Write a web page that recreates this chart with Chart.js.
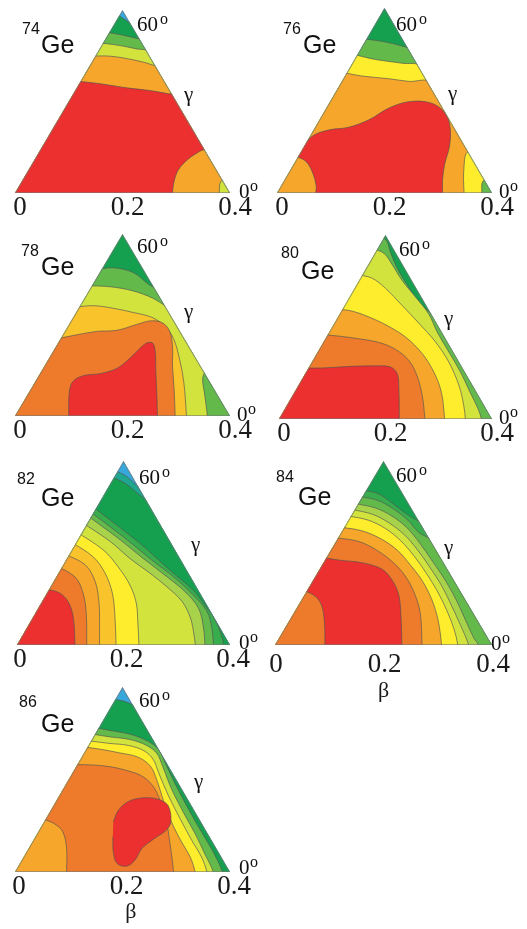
<!DOCTYPE html>
<html>
<head>
<meta charset="utf-8">
<script src="https://cdn.jsdelivr.net/npm/chart.js@4.4.1/dist/chart.umd.min.js"></script>
<style>
  html, body { margin: 0; padding: 0; background: #fff; }
  body { width: 527px; height: 929px; position: relative; overflow: hidden; }
  canvas { position: absolute; }
  .lbl { position: absolute; line-height: 1; white-space: nowrap; color: #111; }
  .sans { font-family: 'Liberation Sans', Arial, sans-serif; }
  .serif { font-family: 'Liberation Serif', 'Times New Roman', serif; }
</style>
</head>
<body>
<script>
// beta axis ticks, the same on every panel
const betaTicks = [0, 0.2, 0.4];
// height of the (beta, gamma) triangle: x = beta cos(gamma), y = beta sin(gamma)
const gammaTop = 0.4 * Math.sin(Math.PI / 3);

// energy levels, 0 = lowest (red) ... 11 = highest (blue)
const levelColors = ['#EC2F2F', '#EE7B2B', '#F6A72B', '#F9C42B', '#FDED2C', '#D3E33D',
                     '#A8D24A', '#63BA4A', '#38AD4E', '#14A04E', '#1FA68F', '#37A8DC'];

// each contour: closed outline [x, y] of the region at or below that level
// 74Ge
const ge74Base = 11;
const ge74Levels = [9, 7, 5, 2, 0];
const ge74Contours = [
  [[.186,.340],[.208,.326],[.223,.312],[.45,-.03],[-.05,-.03]],
  [[.160,.306],[.195,.300],[.225,.293],[.250,.286],[.45,-.03],[-.05,-.03]],
  [[.150,.285],[.190,.280],[.225,.273],[.255,.265],[.45,-.03],[-.05,-.03]],
  [[.140,.259],[.177,.259],[.220,.252],[.257,.242],[.283,.229],[.400,.032],[.383,.022],[.380,0],[.380,-.013],[-.028,-.013]],
  [[.113,.212],[.158,.207],[.208,.199],[.251,.194],[.285,.188],[.304,.185],[.358,.087],[.344,.079],[.322,.064],[.304,.044],[.296,.022],[.293,0],[.293,-.013],[-.028,-.013]]
];

// 76Ge
const ge76Base = 11;
const ge76Levels = [9, 7, 4, 2, 0];
const ge76Contours = [
  [[.192,.347],[.211,.340],[.220,.331],[.45,-.03],[-.05,-.03]],
  [[.158,.289],[.195,.284],[.233,.275],[.254,.266],[.45,-.03],[-.05,-.03]],
  [[.141,.260],[.183,.250],[.233,.243],[.270,.236],[.400,.032],[.383,.022],[.381,0],[.381,-.013],[-.05,-.03]],
  [[.121,.226],[.158,.219],[.208,.214],[.245,.209],[.288,.207],[.369,.088],[.352,.074],[.348,.050],[.347,.025],[.348,0],[.348,-.013],[-.05,-.03]],
  [[.037,.074],[.065,.106],[.096,.118],[.133,.123],[.171,.137],[.208,.159],[.245,.171],[.285,.169],[.312,.151],[.322,.123],[.321,.088],[.312,.054],[.308,.025],[.308,0],[.308,-.013],[.074,-.013],[.073,.013],[.065,.041],[.053,.060],[.034,.069]]
];

// 78Ge
const ge78Base = 9;
const ge78Levels = [7, 5, 3, 1, 0];
const ge78Contours = [
  [[.152,.279],[.183,.282],[.220,.273],[.248,.251],[.276,.232],[.45,-.03],[-.05,-.03]],
  [[.133,.248],[.177,.246],[.220,.238],[.257,.224],[.279,.210],[.301,.197],[.353,.090],[.349,.071],[.353,.040],[.358,0],[.358,-.011],[-.05,-.03]],
  [[.112,.207],[.146,.210],[.183,.205],[.220,.197],[.254,.188],[.279,.171],[.295,.147],[.306,.109],[.314,.065],[.319,0],[.319,-.011],[-.05,-.03]],
  [[.074,.146],[.112,.154],[.152,.161],[.189,.163],[.226,.174],[.251,.181],[.273,.178],[.287,.163],[.293,.134],[.293,.096],[.296,.052],[.298,0],[.298,-.011],[-.05,-.03]],
  [[.100,-.011],[.100,0],[.101,.045],[.108,.066],[.128,.077],[.160,.081],[.192,.092],[.220,.116],[.243,.138],[.256,.139],[.261,.122],[.262,.084],[.264,.040],[.265,0],[.265,-.011]]
];

// 80Ge
const ge80Base = 9;
const ge80Levels = [7, 5, 4, 2, 1, 0];
const ge80Contours = [
  [[.181,.347],[.201,.337],[.209,.315],[.222,.284],[.241,.252],[.263,.220],[.291,.192],[.45,-.03],[-.05,-.03]],
  [[.175,.321],[.197,.312],[.213,.290],[.231,.261],[.256,.230],[.281,.198],[.297,.164],[.319,.126],[.341,.088],[.359,.050],[.374,.019],[.380,0],[.380,-.013],[-.05,-.03]],
  [[.147,.272],[.175,.265],[.200,.246],[.231,.214],[.263,.180],[.294,.145],[.319,.107],[.338,.063],[.347,.025],[.350,0],[.350,-.013],[-.05,-.03]],
  [[.109,.207],[.138,.203],[.169,.192],[.203,.176],[.238,.154],[.269,.123],[.291,.088],[.305,.050],[.311,0],[.311,-.013],[-.05,-.03]],
  [[.081,.159],[.113,.156],[.150,.151],[.188,.144],[.219,.131],[.244,.110],[.259,.082],[.269,.044],[.274,0],[.274,-.013],[-.05,-.03]],
  [[.047,.096],[.081,.096],[.131,.099],[.181,.100],[.209,.098],[.222,.085],[.225,.057],[.226,0],[.226,-.013],[-.05,-.03]]
];

// 82Ge
const ge82Base = 11;
const ge82Levels = [10, 9, 8, 7, 6, 5, 4, 3, 2, 1, 0];
const ge82Contours = [
  [[.180,.330],[.205,.318],[.225,.300],[.245,.285],[.45,-.03],[-.05,-.03]],
  [[.175,.318],[.205,.303],[.228,.284],[.255,.262],[.45,-.03],[-.05,-.03]],
  [[.135,.266],[.230,.192],[.287,.141],[.330,.104],[.350,.079],[.372,.047],[.385,.015],[.388,0],[.388,-.013],[-.05,-.03]],
  [[.128,.258],[.203,.201],[.253,.160],[.297,.126],[.331,.094],[.357,.063],[.366,.031],[.369,0],[.369,-.013],[-.05,-.03]],
  [[.126,.248],[.190,.201],[.237,.163],[.281,.129],[.316,.100],[.341,.069],[.350,.034],[.353,0],[.353,-.013],[-.05,-.03]],
  [[.120,.232],[.175,.195],[.212,.163],[.250,.135],[.281,.110],[.310,.082],[.325,.053],[.331,.028],[.335,0],[.335,-.013],[-.05,-.03]],
  [[.110,.214],[.162,.179],[.190,.147],[.212,.113],[.224,.079],[.227,.041],[.229,0],[.229,-.013],[-.05,-.03]],
  [[.100,.195],[.143,.166],[.165,.136],[.179,.098],[.184,.053],[.186,0],[.186,-.013],[-.05,-.03]],
  [[.088,.172],[.128,.151],[.147,.119],[.154,.079],[.155,.041],[.155,0],[.155,-.013],[-.05,-.03]],
  [[.072,.150],[.109,.128],[.124,.098],[.130,.060],[.131,0],[.131,-.013],[-.05,-.03]],
  [[.052,.106],[.080,.098],[.097,.080],[.106,.050],[.109,0],[.109,-.013],[-.05,-.03]]
];

// 84Ge
const ge84Base = 9;
const ge84Levels = [8, 7, 6, 5, 4, 2, 1, 0];
const ge84Contours = [
  [[.160,.292],[.190,.285],[.215,.268],[.238,.250],[.285,.215],[.45,-.03],[-.05,-.03]],
  [[.155,.280],[.190,.272],[.220,.255],[.245,.235],[.265,.212],[.300,.190],[.45,-.03],[-.05,-.03]],
  [[.150,.266],[.185,.258],[.215,.243],[.242,.222],[.266,.193],[.290,.158],[.315,.120],[.335,.083],[.352,.045],[.366,.014],[.375,0],[.375,-.013],[-.05,-.03]],
  [[.143,.255],[.180,.246],[.210,.230],[.238,.208],[.262,.180],[.285,.147],[.308,.110],[.326,.073],[.342,.037],[.357,0],[.357,-.013],[-.05,-.03]],
  [[.135,.243],[.172,.235],[.204,.219],[.232,.196],[.256,.168],[.279,.135],[.300,.100],[.318,.062],[.330,.030],[.337,0],[.337,-.013],[-.05,-.03]],
  [[.120,.222],[.160,.215],[.195,.200],[.226,.178],[.250,.150],[.272,.120],[.290,.083],[.301,.045],[.307,0],[.307,-.013],[-.05,-.03]],
  [[.105,.203],[.154,.195],[.185,.180],[.215,.158],[.240,.130],[.258,.095],[.268,.058],[.271,0],[.271,-.013],[-.05,-.03]],
  [[.083,.166],[.117,.160],[.160,.155],[.197,.143],[.216,.122],[.228,.095],[.232,.058],[.234,0],[.234,-.013],[.092,-.013],[.092,0],[.091,.045],[.085,.077],[.071,.094],[.046,.105]]
];

// 86Ge
const ge86Base = 11;
const ge86Levels = [9, 7, 5, 4, 2, 1, 0];
const ge86Contours = [
  [[.183,.324],[.208,.318],[.233,.303],[.45,-.03],[-.05,-.03]],
  [[.149,.270],[.177,.265],[.214,.258],[.245,.246],[.267,.230],[.279,.205],[.298,.165],[.322,.119],[.347,.075],[.369,.037],[.386,0],[.386,-.013],[-.05,-.03]],
  [[.144,.258],[.177,.253],[.214,.248],[.245,.237],[.264,.222],[.275,.197],[.291,.156],[.313,.112],[.335,.072],[.353,.034],[.369,0],[.369,-.013],[-.05,-.03]],
  [[.135,.246],[.174,.241],[.211,.237],[.240,.227],[.257,.211],[.268,.184],[.285,.144],[.307,.100],[.329,.059],[.347,.028],[.357,0],[.357,-.013],[-.05,-.03]],
  [[.130,.234],[.158,.230],[.195,.223],[.229,.215],[.252,.198],[.264,.172],[.276,.134],[.291,.094],[.310,.056],[.326,.028],[.335,0],[.335,-.013],[-.05,-.03]],
  [[.090,.200],[.127,.201],[.171,.198],[.208,.190],[.239,.178],[.260,.156],[.273,.125],[.282,.094],[.288,.056],[.293,.019],[.295,0],[.295,-.012],[.096,-.012],[.096,0],[.096,.044],[.089,.075],[.074,.090],[.053,.099]],
  [[.183,.094],[.192,.115],[.211,.132],[.239,.139],[.267,.136],[.285,.124],[.290,.094],[.281,.078],[.257,.061],[.236,.044],[.223,.022],[.208,.011],[.190,.016],[.183,.037],[.182,.066]]
];

const nuclei = [
  { mass: '74', base: ge74Base, levels: ge74Levels, contours: ge74Contours },
  { mass: '76', base: ge76Base, levels: ge76Levels, contours: ge76Contours },
  { mass: '78', base: ge78Base, levels: ge78Levels, contours: ge78Contours },
  { mass: '80', base: ge80Base, levels: ge80Levels, contours: ge80Contours },
  { mass: '82', base: ge82Base, levels: ge82Levels, contours: ge82Contours },
  { mass: '84', base: ge84Base, levels: ge84Levels, contours: ge84Contours },
  { mass: '86', base: ge86Base, levels: ge86Levels, contours: ge86Contours }
];

// page placement of each panel (triangle left x, top y, width, height) and its labels
const panels = [
  { lx: 15,  ty: 10,  w: 215, h: 183, tickPad: -1, labelOffset: 5, axisH: 36, beta: false,
    massAt: [22, 35],  geAt: [41, 53],  sixtyAt: [137, 32],  gammaAt: [184, 102], zeroAt: [239, 199] },
  { lx: 277, ty: 8,   w: 215, h: 185, tickPad: -1, labelOffset: 5, axisH: 36, beta: false,
    massAt: [283, 35], geAt: [303, 53], sixtyAt: [396, 32],  gammaAt: [448, 101], zeroAt: [499, 199] },
  { lx: 15,  ty: 234, w: 215, h: 182, tickPad: -1, labelOffset: 5, axisH: 36, beta: false,
    massAt: [21, 257], geAt: [41, 275], sixtyAt: [137, 254], gammaAt: [184, 319], zeroAt: [237, 422] },
  { lx: 279, ty: 235, w: 213, h: 184, tickPad: -1, labelOffset: 5, axisH: 36, beta: false,
    massAt: [281, 259], geAt: [301, 279], sixtyAt: [399, 257], gammaAt: [444, 326], zeroAt: [499, 425] },
  { lx: 17,  ty: 461, w: 213, h: 184, tickPad: -1, labelOffset: 3, axisH: 36, beta: false,
    massAt: [17, 485], geAt: [41, 506], sixtyAt: [139, 485], gammaAt: [191, 552], zeroAt: [239, 650] },
  { lx: 275, ty: 461, w: 217, h: 184, tickPad: 4, labelOffset: 1, axisH: 59, beta: true, betaText: 'β',
    massAt: [276, 483], geAt: [298, 505], sixtyAt: [396, 483], gammaAt: [444, 555], zeroAt: [491, 651] },
  { lx: 15,  ty: 687, w: 215, h: 185, tickPad: -1, labelOffset: 4, axisH: 53, beta: true, betaText: '\u00a0\u00a0\u00a0β',
    massAt: [19, 708], geAt: [41, 732], sixtyAt: [139, 708], gammaAt: [194, 789], zeroAt: [239, 875] }
];

const contourColor = 'rgba(85,85,85,0.75)';
const edgeColor = 'rgba(120,120,120,0.8)';
const outerFrame = [[-0.05, -0.05], [0.45, -0.05], [0.2, 0.42]];
const triangle = [[0, 0], [0.4, 0], [0.2, gammaTop], [0, 0]];

Chart.defaults.font.family = "'Liberation Serif', 'Times New Roman', serif";
Chart.defaults.color = '#1a1a1a';

// fills each contour region (inside the beta-gamma triangle) right before its line is stroked
const contourFill = {
  id: 'contourFill',
  beforeDatasetsDraw(chart) {
    const { ctx, scales: { x, y } } = chart;
    ctx.save();
    ctx.beginPath();
    ctx.moveTo(x.getPixelForValue(0), y.getPixelForValue(0));
    ctx.lineTo(x.getPixelForValue(0.4), y.getPixelForValue(0));
    ctx.lineTo(x.getPixelForValue(0.2), y.getPixelForValue(gammaTop));
    ctx.closePath();
    ctx.clip();
  },
  beforeDatasetDraw(chart, args) {
    const ds = chart.data.datasets[args.index];
    if (!ds.region) return;
    const ctx = chart.ctx;
    const line = args.meta.dataset;
    ctx.beginPath();
    if (line && typeof line.path === 'function') {
      if (line.updateControlPoints) line.updateControlPoints(chart.chartArea, 'x');
      line.path(ctx);
    } else {
      args.meta.data.forEach((p, i) => (i ? ctx.lineTo(p.x, p.y) : ctx.moveTo(p.x, p.y)));
    }
    ctx.closePath();
    ctx.fillStyle = ds.backgroundColor;
    ctx.fill();
  },
  afterDatasetsDraw(chart) {
    chart.ctx.restore();
  }
};

function addText(text, x, baseline, size, cls) {
  const el = document.createElement('div');
  el.className = 'lbl ' + cls;
  el.textContent = text;
  el.style.fontSize = size + 'px';
  const k = cls === 'sans' ? 0.8465 : 0.8375;
  el.style.left = x + 'px';
  el.style.top = (baseline - k * size) + 'px';
  document.body.appendChild(el);
}

function drawPanel(n, p) {
  const padL = 15, padT = 6;
  const W = padL + p.w + 35;
  const H = padT + p.h + p.axisH;
  const cv = document.createElement('canvas');
  cv.width = W;
  cv.height = H;
  cv.style.width = W + 'px';
  cv.style.height = H + 'px';
  cv.style.left = (p.lx - padL) + 'px';
  cv.style.top = (p.ty - padT) + 'px';
  document.body.appendChild(cv);

  const regions = [{ level: n.base, pts: outerFrame, base: true }]
    .concat(n.levels.map((lv, i) => ({ level: lv, pts: n.contours[i] })));
  const total = regions.length;
  const datasets = regions.map((r, i) => ({
    data: r.pts.map(([x, y]) => ({ x, y })),
    region: true,
    showLine: true,
    backgroundColor: levelColors[r.level],
    borderColor: r.base ? 'rgba(0,0,0,0)' : contourColor,
    borderWidth: r.base ? 0 : 0.9,
    tension: r.base ? 0 : 0.35,
    pointRadius: 0,
    order: total - i + 1
  }));
  datasets.push({
    data: triangle.map(([x, y]) => ({ x, y })),
    showLine: true,
    borderColor: edgeColor,
    borderWidth: 1.6,
    tension: 0,
    pointRadius: 0,
    order: 0
  });

  new Chart(cv, {
    type: 'scatter',
    data: { datasets },
    options: {
      responsive: false,
      maintainAspectRatio: false,
      animation: false,
      devicePixelRatio: 1,
      events: [],
      layout: { padding: { left: padL, right: W - padL - p.w, top: padT, bottom: 0 } },
      elements: { line: { capBezierPoints: false }, point: { radius: 0 } },
      plugins: { legend: { display: false }, tooltip: { enabled: false } },
      scales: {
        x: {
          type: 'linear', min: 0, max: 0.4,
          grid: { display: false, drawTicks: false },
          border: { display: false },
          afterBuildTicks: (scale) => { scale.ticks = betaTicks.map(v => ({ value: v })); },
          afterFit: (scale) => { scale.height = p.axisH; },
          ticks: {
            font: { size: 27 }, color: '#1a1a1a', padding: p.tickPad,
            labelOffset: p.labelOffset, maxRotation: 0, autoSkip: false,
            callback: (v) => String(v)
          },
          title: { display: p.beta, text: p.betaText || 'β', font: { size: 22 }, color: '#1a1a1a', padding: 0 }
        },
        y: { type: 'linear', min: 0, max: gammaTop, display: false }
      }
    },
    plugins: [contourFill]
  });

  addText(n.mass, p.massAt[0], p.massAt[1], 16, 'sans');
  addText('Ge', p.geAt[0], p.geAt[1], 25, 'sans');
  addText('60', p.sixtyAt[0], p.sixtyAt[1], 21, 'serif');
  addText('o', p.sixtyAt[0] + 23, p.sixtyAt[1] - 8, 16, 'serif');
  addText('γ', p.gammaAt[0], p.gammaAt[1], 21, 'serif');
  addText('0', p.zeroAt[0], p.zeroAt[1], 21, 'serif');
  addText('o', p.zeroAt[0] + 11, p.zeroAt[1] - 8, 16, 'serif');
}

nuclei.forEach((n, i) => drawPanel(n, panels[i]));
</script>
</body>
</html>
